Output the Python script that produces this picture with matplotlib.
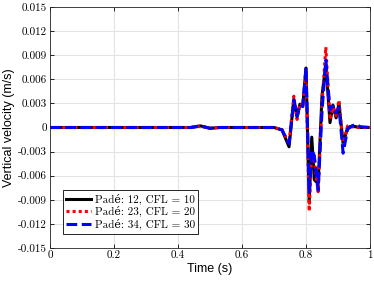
import matplotlib
matplotlib.use("Agg")
import matplotlib.pyplot as plt

# knot times (s)
t = [0.0, 0.44, 0.47, 0.50, 0.53, 0.56, 0.70, 0.725, 0.747, 0.762, 0.772,
     0.781, 0.790, 0.800, 0.810, 0.818, 0.826, 0.838, 0.850, 0.862, 0.875,
     0.884, 0.894, 0.903, 0.916, 0.930, 0.945, 0.955, 0.97, 1.0]

# vertical velocity (m/s)
v12 = [0.0, 0.0, 0.0002, -0.0001, 0.0, 0.0, 0.0, -0.0003, -0.0024, 0.0035, 0.0013,
       0.0029, 0.0027, 0.0074, -0.0094, -0.0012, -0.0065, -0.0070, 0.0040, 0.0078, 0.0006,
       0.0028, 0.0012, 0.0030, -0.0020, 0.0000, 0.0002, 0.0001, 0.0, 0.0]
v23 = [0.0, 0.0, 0.0002, -0.0001, 0.0, 0.0, 0.0, -0.0003, -0.0020, 0.0039, 0.0010,
       0.0030, 0.0028, 0.0070, -0.0104, -0.0030, -0.0040, -0.0080, 0.0030, 0.0100, 0.0010,
       0.0025, 0.0015, 0.0034, -0.0022, 0.0002, 0.0001, 0.0, 0.0, 0.0]
v34 = [0.0, 0.0, 0.0002, -0.0001, 0.0, 0.0, 0.0, -0.0003, -0.0020, 0.0034, 0.0014,
       0.0028, 0.0026, 0.0075, -0.0082, -0.0028, -0.0035, -0.0078, 0.0020, 0.0084, 0.0022,
       0.0027, 0.0018, 0.0025, -0.0032, -0.0002, 0.0002, 0.0004, 0.0001, 0.0]

labels = ["Padé: 12, CFL = 10", "Padé: 23, CFL = 20", "Padé: 34, CFL = 30"]
yticks = [-0.015, -0.012, -0.009, -0.006, -0.003, 0, 0.003, 0.006, 0.009, 0.012, 0.015]
ytick_labels = ["-0.015", "-0.012", "-0.009", "-0.006", "-0.003", "0",
                "0.003", "0.006", "0.009", "0.012", "0.015"]
xticks = [0, 0.2, 0.4, 0.6, 0.8, 1]
xtick_labels = ["0", "0.2", "0.4", "0.6", "0.8", "1"]

serif = ["cmr10", "DejaVu Serif"]
sans = ["Liberation Sans", "DejaVu Sans"]

fig = plt.figure(figsize=(3.74, 2.82), dpi=100)
ax = fig.add_axes([50 / 374, 1 - 248 / 282, 320 / 374, 241 / 282])

ax.plot(t, v12, color="black", lw=2.2, linestyle="-", label=labels[0])
ax.plot(t, v23, color="red", lw=2.2, linestyle=(0, (1, 1)), label=labels[1])
ax.plot(t, v34, color="blue", lw=2.2, linestyle=(0, (3.5, 1.5)), label=labels[2])

ax.set_xlim(0, 1)
ax.set_ylim(-0.015, 0.015)
ax.set_xticks(xticks)
ax.set_xticklabels(xtick_labels, family=serif, fontsize=8)
ax.set_yticks(yticks)
ax.set_yticklabels(ytick_labels, family=serif, fontsize=8)
ax.tick_params(direction="in", top=True, right=True, length=3, width=0.6, pad=2)
ax.grid(True, color="#e3e3e3", lw=0.8)
ax.set_axisbelow(True)
for s in ax.spines.values():
    s.set_linewidth(0.6)
    s.set_color("#262626")

ax.set_xlabel("Time (s)", family=sans, fontsize=9, labelpad=2)
ax.set_ylabel("Vertical velocity (m/s)", family=sans, fontsize=9, labelpad=2)

leg = ax.legend(loc="lower left", bbox_to_anchor=(0.04, 0.06), prop={"family": serif, "size": 8},
                fancybox=False, edgecolor="black", framealpha=1, handlelength=2.2,
                borderpad=0.3, labelspacing=0.15, handletextpad=0.4, borderaxespad=0)
leg.get_frame().set_linewidth(0.6)

fig.savefig("out.png", dpi=100)
